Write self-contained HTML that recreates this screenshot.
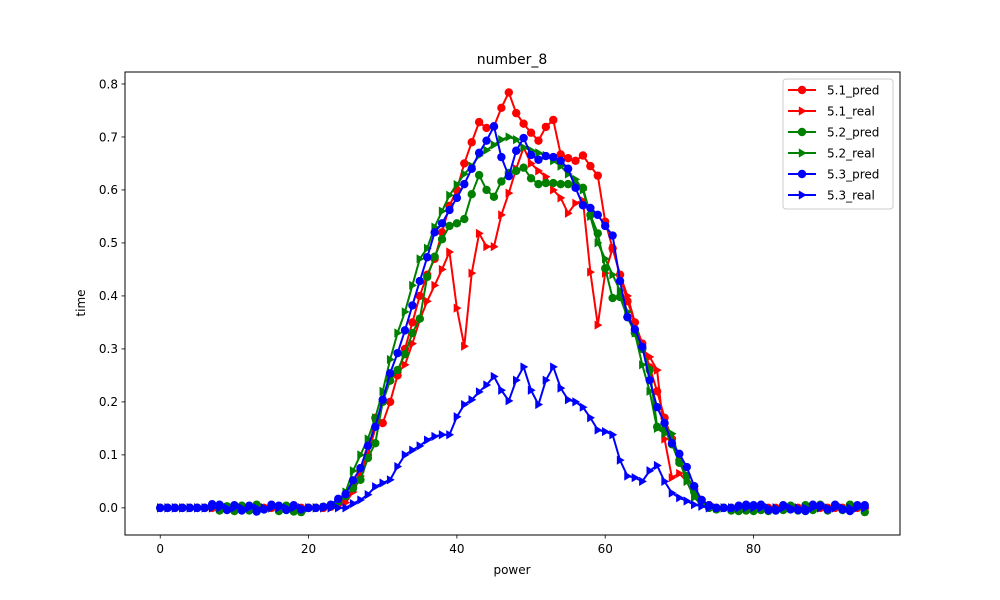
<!DOCTYPE html>
<html><head><meta charset="utf-8"><style>
html,body{margin:0;padding:0;background:#fff;}
svg{display:block;font-family:"DejaVu Sans","Liberation Sans",sans-serif;}
</style></head><body>
<svg id="chart" width="1000" height="600" viewBox="0 0 1000 600">
<rect width="1000" height="600" fill="#fff"/>
<text x="512" y="64" font-size="14" text-anchor="middle">number_8</text>
<text x="512" y="574" font-size="12" text-anchor="middle">power</text>
<text x="0" y="0" font-size="12" text-anchor="middle" transform="translate(85,303) rotate(-90)">time</text>
<g id="ticks"></g>
<g id="plot"></g>
<rect x="125" y="72" width="775" height="463" fill="none" stroke="#000" stroke-width="1"/>
<g id="legend"></g>
</svg>
<script>
const xTicks=[0,20,40,60,80];
const yTicks=[0.0,0.1,0.2,0.3,0.4,0.5,0.6,0.7,0.8];
const seriesNames=["5.1_pred","5.1_real","5.2_pred","5.2_real","5.3_pred","5.3_real"];
const seriesColors=["#ff0000","#ff0000","#008000","#008000","#0000ff","#0000ff"];
const seriesMarkers=["o",">","o",">","o",">"];
const z=n=>Array(n).fill(0);
const redPred=[].concat(z(23),[0.002,0.008,0.02,0.04,0.07,0.1,0.17,0.16,0.2,0.25,0.3,0.35,0.4,0.44,0.47,0.52,0.57,0.6,0.65,0.69,0.728,0.717,0.72,0.755,0.784,0.745,0.725,0.708,0.693,0.719,0.732,0.667,0.66,0.655,0.665,0.645,0.627,0.54,0.49,0.44,0.39,0.35,0.31,0.265,0.22,0.17,0.13,0.09,0.06,0.035,0.015,0.005],z(21));
const redReal=[].concat(z(24),[0.005,0.01,0.03,0.06,0.1,0.15,0.2,0.25,0.255,0.27,0.31,0.355,0.39,0.42,0.45,0.483,0.377,0.305,0.443,0.518,0.493,0.493,0.553,0.594,0.64,0.68,0.65,0.636,0.625,0.6,0.585,0.556,0.575,0.58,0.445,0.345,0.443,0.49,0.44,0.4,0.35,0.3,0.285,0.26,0.13,0.057,0.065,0.05,0.02,0.01,0.003],z(21));
const greenPred=[0,0,0,0,0,0,0,0.005,-0.005,0.003,-0.006,0.004,-0.005,0.006,-0.003,0.005,-0.006,0.004,-0.007,-0.008,0,0,0.002,0.005,
0.012,0.022,0.037,0.053,0.094,0.122,0.2,0.24,0.26,0.29,0.33,0.357,0.436,0.474,0.507,0.532,0.537,0.545,0.592,0.628,0.6,0.587,0.616,0.632,0.636,0.642,0.622,0.611,0.613,0.613,0.611,0.611,0.61,0.604,0.553,0.518,0.452,0.396,0.398,0.36,0.33,0.3,0.26,0.153,0.148,0.12,0.085,0.06,0.03,0.01,0.0,
-0.003,0,-0.005,-0.006,-0.005,-0.006,-0.004,-0.006,-0.005,-0.004,0.004,-0.005,0.005,-0.004,0.006,-0.005,0.005,-0.004,0.006,0.003,-0.008];
const greenReal=[].concat(z(24),[0.01,0.03,0.07,0.1,0.13,0.17,0.22,0.28,0.33,0.37,0.42,0.47,0.49,0.53,0.56,0.59,0.61,0.63,0.645,0.665,0.675,0.685,0.695,0.7,0.695,0.68,0.675,0.67,0.665,0.655,0.645,0.63,0.62,0.6,0.55,0.5,0.47,0.44,0.41,0.37,0.33,0.27,0.22,0.15,0.14,0.14,0.09,0.05,0.02,0.005],z(22));
const bluePred=[0,0,0,0,0,0,0,0.007,0.006,-0.004,0.005,-0.005,0.004,-0.007,-0.003,0.006,0.004,-0.004,0.005,-0.003,0,0,0.002,0.006,
0.017,0.026,0.052,0.075,0.117,0.153,0.204,0.254,0.292,0.335,0.382,0.428,0.473,0.52,0.537,0.562,0.585,0.611,0.64,0.67,0.693,0.72,0.662,0.626,0.674,0.698,0.666,0.657,0.664,0.662,0.655,0.64,0.604,0.571,0.566,0.553,0.532,0.514,0.428,0.36,0.337,0.304,0.241,0.19,0.16,0.122,0.102,0.077,0.041,0.015,0.005,
0,0,0,0.004,0.006,0.005,0.006,-0.004,-0.005,0.005,-0.003,-0.004,-0.006,0.006,0.004,-0.003,0.006,-0.003,-0.006,0.005,0.005];
const blueReal=[].concat(z(26),[0.008,0.015,0.025,0.04,0.047,0.053,0.078,0.1,0.109,0.117,0.128,0.135,0.138,0.138,0.172,0.195,0.204,0.219,0.232,0.248,0.222,0.202,0.241,0.266,0.222,0.195,0.241,0.266,0.226,0.204,0.2,0.19,0.17,0.147,0.144,0.138,0.09,0.06,0.057,0.05,0.07,0.08,0.05,0.028,0.019,0.013,0.006,0.003],z(22));
const allSeries=[redPred,redReal,greenPred,greenReal,bluePred,blueReal];

const NS="http://www.w3.org/2000/svg";
const L=125,R=900,T=72,B=535;
const xMin=-4.75,xMax=99.75,yMin=-0.0512,yMax=0.8226;
const xs=v=>L+(v-xMin)/(xMax-xMin)*(R-L);
const ys=v=>B-(v-yMin)/(yMax-yMin)*(B-T);
function mk(tag,attrs,parent){const e=document.createElementNS(NS,tag);for(const k in attrs)e.setAttribute(k,attrs[k]);parent.appendChild(e);return e;}
function marker(type,cx,cy,color,parent){
  let m;
  if(type==="o"){m=mk("circle",{cx:cx,cy:cy,r:4.2,fill:color},parent);}
  else{m=mk("polygon",{points:(cx+4.6)+","+cy+" "+(cx-3.2)+","+(cy-4.6)+" "+(cx-3.2)+","+(cy+4.6),fill:color},parent);}
  return m;
}
const ticks=document.getElementById("ticks");
xTicks.forEach(v=>{
  const x=xs(v);
  const l=mk("line",{x1:x,y1:B,x2:x,y2:B+3.5,stroke:"#000","stroke-width":0.8},ticks);
  
  
  const t=mk("text",{x:x,y:B+18,"font-size":12,"text-anchor":"middle"},ticks);
  t.textContent=String(v);
  
  
});
yTicks.forEach(v=>{
  const y=ys(v);
  const l=mk("line",{x1:L-3.5,y1:y,x2:L,y2:y,stroke:"#000","stroke-width":0.8},ticks);
  
  
  const t=mk("text",{x:L-7,y:y+4.3,"font-size":12,"text-anchor":"end"},ticks);
  t.textContent=v.toFixed(1);
  
  
});
const plot=document.getElementById("plot");
allSeries.forEach((s,si)=>{
  const g=mk("g",{},plot);
  
  
  const pts=s.map((v,i)=>xs(i).toFixed(2)+","+ys(v).toFixed(2)).join(" ");
  const pl=mk("polyline",{points:pts,fill:"none",stroke:seriesColors[si],"stroke-width":2,"stroke-linejoin":"round"},g);
  
  
  s.forEach((v,i)=>{
    const m=marker(seriesMarkers[si],xs(i),ys(v),seriesColors[si],g);
    
    
  });
});
const lg=document.getElementById("legend");


const box=mk("rect",{x:783,y:79,width:110,height:130,rx:3,fill:"#fff","fill-opacity":0.8,stroke:"#ccc","stroke-width":1},lg);


seriesNames.forEach((n,i)=>{
  const y=90+i*21;
  const g=mk("g",{},lg);
  
  
  mk("line",{x1:788,y1:y,x2:816,y2:y,stroke:seriesColors[i],"stroke-width":2},g);
  marker(seriesMarkers[i],802,y,seriesColors[i],g);
  const t=mk("text",{x:827,y:y+4.5,"font-size":12},g);
  t.textContent=n;
});
</script>
</body></html>
